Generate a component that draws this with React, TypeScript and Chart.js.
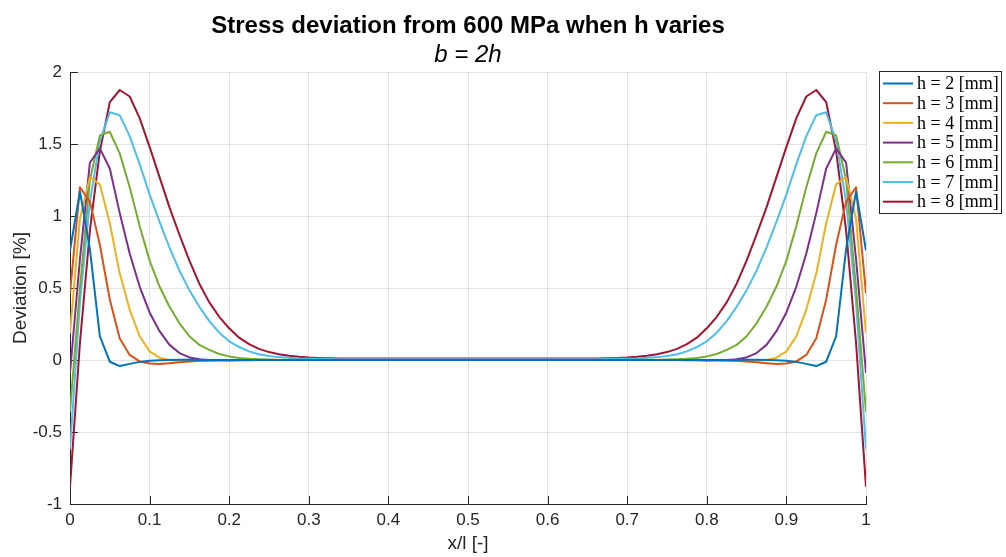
import React, { useEffect, useRef } from "react";
import { Chart, registerables } from "chart.js";

Chart.register(...registerables);

// x/l sample positions
const xValues = [
  0, 0.0125, 0.025, 0.0375, 0.05, 0.0625, 0.075, 0.0875, 0.1, 0.1125,
  0.125, 0.1375, 0.15, 0.1625, 0.175, 0.1875, 0.2, 0.2125, 0.225, 0.2375,
  0.25, 0.2625, 0.275, 0.2875, 0.3, 0.3125, 0.325, 0.3375, 0.35, 0.3625,
  0.375, 0.3875, 0.4, 0.4125, 0.425, 0.4375, 0.45, 0.4625, 0.475, 0.4875,
  0.5, 0.5125, 0.525, 0.5375, 0.55, 0.5625, 0.575, 0.5875, 0.6, 0.6125,
  0.625, 0.6375, 0.65, 0.6625, 0.675, 0.6875, 0.7, 0.7125, 0.725, 0.7375,
  0.75, 0.7625, 0.775, 0.7875, 0.8, 0.8125, 0.825, 0.8375, 0.85, 0.8625,
  0.875, 0.8875, 0.9, 0.9125, 0.925, 0.9375, 0.95, 0.9625, 0.975, 0.9875,
  1,
];

const h2 = [
  0.76, 1.17, 0.77, 0.165, -0.012, -0.042, -0.027, -0.013, -0.005, -0.001,
  0, 0.001, 0.001, 0, 0, 0, 0, 0, 0, 0,
  0, 0, 0, 0, 0, 0, 0, 0, 0, 0,
  0, 0, 0, 0, 0, 0, 0, 0, 0, 0,
  0, 0, 0, 0, 0, 0, 0, 0, 0, 0,
  0, 0, 0, 0, 0, 0, 0, 0, 0, 0,
  0, 0, 0, 0, 0, 0, 0, 0, 0.001, 0.001,
  0, -0.001, -0.005, -0.013, -0.027, -0.042, -0.012, 0.165, 0.77, 1.17,
  0.76,
];

const h3 = [
  0.463, 1.2, 1.1, 0.8, 0.42, 0.15, 0.035, -0.01, -0.025, -0.028,
  -0.022, -0.015, -0.01, -0.006, -0.003, -0.002, -0.001, 0, 0, 0,
  0, 0, 0, 0, 0, 0, 0, 0, 0, 0,
  0, 0, 0, 0, 0, 0, 0, 0, 0, 0,
  0, 0, 0, 0, 0, 0, 0, 0, 0, 0,
  0, 0, 0, 0, 0, 0, 0, 0, 0, 0,
  0, 0, 0, 0, -0.001, -0.002, -0.003, -0.006, -0.01, -0.015,
  -0.022, -0.028, -0.025, -0.01, 0.035, 0.15, 0.42, 0.8, 1.1, 1.2,
  0.463,
];

const h4 = [
  0.185, 0.98, 1.27, 1.22, 0.95, 0.6, 0.35, 0.165, 0.06, 0.016,
  0, -0.006, -0.008, -0.007, -0.005, -0.003, -0.002, -0.001, 0, 0,
  0, 0, 0, 0, 0, 0, 0, 0, 0, 0,
  0, 0, 0, 0, 0, 0, 0, 0, 0, 0,
  0, 0, 0, 0, 0, 0, 0, 0, 0, 0,
  0, 0, 0, 0, 0, 0, 0, 0, 0, 0,
  0, 0, 0, -0.001, -0.002, -0.003, -0.005, -0.007, -0.008, -0.006,
  0, 0.016, 0.06, 0.165, 0.35, 0.6, 0.95, 1.22, 1.27, 0.98,
  0.185,
];

const h5 = [
  -0.09, 0.7, 1.37, 1.47, 1.33, 1.02, 0.74, 0.51, 0.33, 0.2,
  0.105, 0.048, 0.018, 0.005, 0, -0.002, -0.003, -0.002, -0.001, 0,
  0, 0, 0, 0, 0, 0, 0, 0, 0, 0,
  0, 0, 0, 0, 0, 0, 0, 0, 0, 0,
  0, 0, 0, 0, 0, 0, 0, 0, 0, 0,
  0, 0, 0, 0, 0, 0, 0, 0, 0, 0,
  0, 0, -0.001, -0.002, -0.003, -0.002, 0, 0.005, 0.018, 0.048,
  0.105, 0.2, 0.33, 0.51, 0.74, 1.02, 1.33, 1.47, 1.37, 0.7,
  -0.09,
];

const h6 = [
  -0.36, 0.5, 1.25, 1.56, 1.585, 1.435, 1.2, 0.93, 0.69, 0.51,
  0.37, 0.255, 0.165, 0.105, 0.07, 0.042, 0.025, 0.014, 0.008, 0.005,
  0.003, 0.002, 0.001, 0.001, 0, 0, 0, 0, 0, 0,
  0, 0, 0, 0, 0, 0, 0, 0, 0, 0,
  0, 0, 0, 0, 0, 0, 0, 0, 0, 0,
  0, 0, 0, 0, 0, 0, 0, 0.001, 0.001, 0.002,
  0.003, 0.005, 0.008, 0.014, 0.025, 0.042, 0.07, 0.105, 0.165, 0.255,
  0.37, 0.51, 0.69, 0.93, 1.2, 1.435, 1.585, 1.56, 1.25, 0.5,
  -0.36,
];

const h7 = [
  -0.62, 0.4, 1.1, 1.52, 1.72, 1.7, 1.555, 1.36, 1.15, 0.96,
  0.78, 0.62, 0.485, 0.37, 0.27, 0.19, 0.13, 0.09, 0.06, 0.04,
  0.028, 0.02, 0.015, 0.011, 0.009, 0.008, 0.007, 0.006, 0.006, 0.006,
  0.006, 0.006, 0.006, 0.006, 0.006, 0.006, 0.006, 0.006, 0.006, 0.006,
  0.006, 0.006, 0.006, 0.006, 0.006, 0.006, 0.006, 0.006, 0.006, 0.006,
  0.006, 0.006, 0.006, 0.006, 0.007, 0.008, 0.009, 0.011, 0.015, 0.02,
  0.028, 0.04, 0.06, 0.09, 0.13, 0.19, 0.27, 0.37, 0.485, 0.62,
  0.78, 0.96, 1.15, 1.36, 1.555, 1.7, 1.72, 1.52, 1.1, 0.4,
  -0.62,
];

const h8 = [
  -0.88, 0.12, 0.9, 1.45, 1.79, 1.875, 1.83, 1.68, 1.48, 1.27,
  1.06, 0.87, 0.69, 0.53, 0.4, 0.3, 0.22, 0.155, 0.11, 0.077,
  0.055, 0.04, 0.03, 0.022, 0.017, 0.014, 0.012, 0.011, 0.01, 0.01,
  0.01, 0.01, 0.01, 0.01, 0.01, 0.01, 0.01, 0.01, 0.01, 0.01,
  0.01, 0.01, 0.01, 0.01, 0.01, 0.01, 0.01, 0.01, 0.01, 0.01,
  0.01, 0.01, 0.01, 0.011, 0.012, 0.014, 0.017, 0.022, 0.03, 0.04,
  0.055, 0.077, 0.11, 0.155, 0.22, 0.3, 0.4, 0.53, 0.69, 0.87,
  1.06, 1.27, 1.48, 1.68, 1.83, 1.875, 1.79, 1.45, 0.9, 0.12,
  -0.88,
];

const seriesLabels = [
  "h = 2 [mm]",
  "h = 3 [mm]",
  "h = 4 [mm]",
  "h = 5 [mm]",
  "h = 6 [mm]",
  "h = 7 [mm]",
  "h = 8 [mm]",
];
const seriesColors = ["#0072BD", "#D95319", "#EDB120", "#7E2F8E", "#77AC30", "#4DBEEE", "#A2142F"];

const xTicks = [0, 0.1, 0.2, 0.3, 0.4, 0.5, 0.6, 0.7, 0.8, 0.9, 1];
const yTicks = [-1, -0.5, 0, 0.5, 1, 1.5, 2];

const chartTitle = "Stress deviation from 600 MPa when h varies";
const chartSubtitle = "b = 2h";
const xTitle = "x/l [-]";
const yTitle = "Deviation [%]";

const AXIS = "#262626";
const SANS = "'Liberation Sans', Arial, Helvetica, sans-serif";

const innerTicks = {
  id: "innerTicks",
  beforeDatasetsDraw(chart: any) {
    const { ctx, chartArea, scales } = chart;
    ctx.save();
    ctx.strokeStyle = AXIS;
    ctx.lineWidth = 1;
    ctx.beginPath();
    scales.x.ticks.forEach((t: any) => {
      const px = Math.round(scales.x.getPixelForValue(t.value)) + 0.5;
      ctx.moveTo(px, chartArea.bottom);
      ctx.lineTo(px, chartArea.bottom - 8);
    });
    scales.y.ticks.forEach((t: any) => {
      const py = Math.round(scales.y.getPixelForValue(t.value)) + 0.5;
      ctx.moveTo(chartArea.left, py);
      ctx.lineTo(chartArea.left + 8, py);
    });
    ctx.stroke();
    ctx.restore();
  },
};

const boxLegend = {
  id: "boxLegend",
  afterDraw(chart: any) {
    const { ctx } = chart;
    const bx = 879.5;
    const by = 71.5;
    const bw = 122;
    const bh = 142;
    ctx.save();
    ctx.fillStyle = "#ffffff";
    ctx.fillRect(bx, by, bw, bh);
    ctx.strokeStyle = AXIS;
    ctx.lineWidth = 1;
    ctx.strokeRect(bx, by, bw, bh);
    ctx.font = "18px 'Liberation Serif', 'Times New Roman', serif";
    ctx.textBaseline = "middle";
    ctx.textAlign = "left";
    chart.data.datasets.forEach((ds: any, k: number) => {
      const y = 83.5 + k * 19.7;
      ctx.strokeStyle = ds.borderColor;
      ctx.lineWidth = 2;
      ctx.beginPath();
      ctx.moveTo(883, y);
      ctx.lineTo(913, y);
      ctx.stroke();
      ctx.fillStyle = "#000000";
      ctx.fillText(ds.label, 917, y + 1);
    });
    ctx.restore();
  },
};

export default function App() {
  const ref = useRef<HTMLCanvasElement>(null);

  useEffect(() => {
    if (!ref.current) return;
    const series = [h2, h3, h4, h5, h6, h7, h8];
    const datasets = series.map((s, k) => ({
      label: seriesLabels[k],
      data: s.map((y, i) => ({ x: xValues[i], y })),
      borderColor: seriesColors[k],
      backgroundColor: seriesColors[k],
      borderWidth: 2,
      pointRadius: 0,
      pointHoverRadius: 0,
      fill: false,
      tension: 0,
      borderJoinStyle: "round" as const,
    }));

    const chart = new Chart(ref.current, {
      type: "line",
      data: { datasets },
      options: {
        animation: false,
        responsive: false,
        devicePixelRatio: 1,
        events: [],
        layout: { padding: { left: 0, right: 140, top: 0, bottom: 0 } },
        plugins: {
          legend: { display: false },
          tooltip: { enabled: false },
          title: {
            display: true,
            text: chartTitle,
            fullSize: false,
            color: "#000000",
            font: { family: SANS, size: 24, weight: "bold" },
            padding: { top: 12, bottom: 0 },
          },
          subtitle: {
            display: true,
            text: chartSubtitle,
            fullSize: false,
            color: "#000000",
            font: { family: SANS, size: 24, style: "italic", weight: "normal" },
            padding: { top: 0.6, bottom: 1.8 },
          },
        },
        scales: {
          x: {
            type: "linear",
            min: 0,
            max: 1,
            afterBuildTicks: (scale: any) => {
              scale.ticks = xTicks.map((v) => ({ value: v }));
            },
            afterFit: (scale: any) => {
              scale.height = 53;
            },
            ticks: {
              callback: (v: any) => String(v),
              color: AXIS,
              font: { family: SANS, size: 17 },
              padding: 6,
              maxRotation: 0,
              autoSkip: false,
            },
            grid: { color: "#e3e3e3", lineWidth: 1, drawTicks: false },
            border: { display: true, color: AXIS, width: 1 },
            title: {
              display: true,
              text: xTitle,
              color: AXIS,
              font: { family: SANS, size: 19 },
              padding: { top: 0, bottom: 2 },
            },
          },
          y: {
            type: "linear",
            min: -1,
            max: 2,
            afterBuildTicks: (scale: any) => {
              scale.ticks = yTicks.map((v) => ({ value: v }));
            },
            afterFit: (scale: any) => {
              scale.width = 70;
            },
            ticks: {
              callback: (v: any) => String(v),
              color: AXIS,
              font: { family: SANS, size: 17 },
              padding: 8,
              autoSkip: false,
            },
            grid: { color: "#e3e3e3", lineWidth: 1, drawTicks: false },
            border: { display: true, color: AXIS, width: 1 },
            title: {
              display: true,
              text: yTitle,
              color: AXIS,
              font: { family: SANS, size: 19 },
              padding: { top: 9, bottom: 0 },
            },
          },
        },
      },
      plugins: [innerTicks, boxLegend],
    } as any);

    return () => chart.destroy();
  }, []);

  return (
    <div
      style={{
        position: "absolute",
        left: 0,
        top: 0,
        width: 1006,
        height: 557,
        background: "#ffffff",
      }}
    >
      <canvas ref={ref} width={1006} height={557} style={{ display: "block" }} />
    </div>
  );
}
